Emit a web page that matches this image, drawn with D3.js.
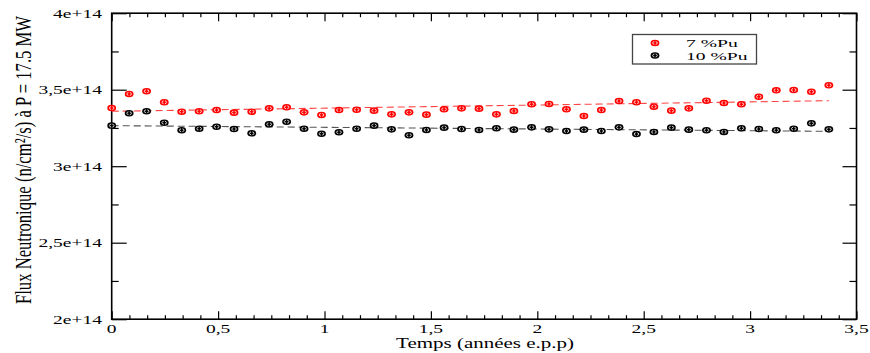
<!DOCTYPE html>
<html><head><meta charset="utf-8">
<script src="https://cdn.jsdelivr.net/npm/d3@7"></script>
<style>body{margin:0;background:#fff}svg{display:block}text{font-family:"Liberation Serif","Times New Roman",serif;fill:#000}</style>
</head><body><svg id="c" width="870" height="353"></svg>
<script>
// ---- data ----
const times = [0,0.082,0.164,0.247,0.329,0.411,0.493,0.575,0.658,0.740,0.822,0.904,0.986,1.068,1.151,1.233,1.315,1.397,1.479,1.562,1.644,1.726,1.808,1.890,1.973,2.055,2.137,2.219,2.301,2.384,2.466,2.548,2.630,2.712,2.795,2.877,2.959,3.041,3.123,3.205,3.288,3.370];
const flux7 = [3.380,3.472,3.490,3.418,3.356,3.359,3.367,3.350,3.356,3.378,3.385,3.352,3.335,3.367,3.369,3.363,3.339,3.352,3.337,3.372,3.378,3.376,3.339,3.361,3.405,3.407,3.372,3.328,3.367,3.426,3.418,3.389,3.363,3.378,3.428,3.413,3.405,3.454,3.496,3.498,3.487,3.529].map(v=>v*1e14);
const flux10 = [3.265,3.346,3.359,3.284,3.235,3.245,3.258,3.243,3.215,3.274,3.291,3.245,3.212,3.222,3.245,3.265,3.241,3.202,3.237,3.252,3.243,3.237,3.248,3.239,3.254,3.241,3.230,3.239,3.230,3.254,3.210,3.224,3.252,3.239,3.235,3.224,3.248,3.243,3.235,3.245,3.280,3.241].map(v=>v*1e14);
const trendT = [0, 3.370];
const trend7 = [3.359e14, 3.428e14];
const trend10 = [3.265e14, 3.228e14];
const xTicks = [0,0.5,1,1.5,2,2.5,3,3.5];
const xTickLabels = ["0","0,5","1","1,5","2","2,5","3","3,5"];
const yTicks = [2e14,2.5e14,3e14,3.5e14,4e14];
const yTickLabels = ["2e+14","2,5e+14","3e+14","3,5e+14","4e+14"];
const seriesNames = ["7 %Pu","10 %Pu"];
const seriesColors = ["#ff0000","#000000"];

// ---- layout ----
const L=111.7, R=856.5, T=13.2, B=319.2, SX=1.5;
const svg=d3.select("#c");
const x=d3.scaleLinear().domain([0,3.5]).range([L,R]);
const y=d3.scaleLinear().domain([2e14,4e14]).range([B,T]);

function txt(g,str,px,py,size,anchor,sx){
  return g.append("text").attr("transform",`translate(${px},${py}) scale(${sx||SX},1)`)
    .attr("text-anchor",anchor).attr("font-size",size).text(str);
}

// minor / major ticks via axes
const xMinor=d3.range(0,3.5001,0.5/6).filter(v=>Math.abs(v*2-Math.round(v*2))>1e-6);
const yMinor=d3.range(2.25e14,4e14,0.5e14);
function axisG(axis,tx,ty){
  const g=svg.append("g").attr("transform",`translate(${tx},${ty})`).call(axis);
  g.select(".domain").remove();
  g.selectAll(".tick line").attr("stroke","#000").attr("stroke-width",1.2);
  g.selectAll("text").remove();
}
axisG(d3.axisBottom(x).tickValues(xTicks).tickSize(-8).tickFormat(""),0,B);
axisG(d3.axisBottom(x).tickValues(xMinor).tickSize(-4).tickFormat(""),0,B);
axisG(d3.axisTop(x).tickValues(xTicks).tickSize(-8).tickFormat(""),0,T);
axisG(d3.axisTop(x).tickValues(xMinor).tickSize(-4).tickFormat(""),0,T);
axisG(d3.axisLeft(y).tickValues(yTicks).tickSize(-15).tickFormat(""),L,0);
axisG(d3.axisLeft(y).tickValues(yMinor).tickSize(-7).tickFormat(""),L,0);
axisG(d3.axisRight(y).tickValues(yTicks).tickSize(-14).tickFormat(""),R,0);
axisG(d3.axisRight(y).tickValues(yMinor).tickSize(-7).tickFormat(""),R,0);

svg.append("rect").attr("x",L).attr("y",T).attr("width",R-L).attr("height",B-T)
  .attr("fill","none").attr("stroke","#000").attr("stroke-width",1.6);

// tick labels
const lab=svg.append("g");
xTicks.forEach((v,i)=>txt(lab,xTickLabels[i],x(v),332.5,13,"middle"));
yTicks.forEach((v,i)=>txt(lab,yTickLabels[i],102,y(v)+4.5,13,"end"));

// axis titles
txt(svg,"Temps (années e.p.p)",485,348,14,"middle");
svg.append("text").attr("transform",`translate(31,160) rotate(-90) scale(1,${SX})`)
  .attr("text-anchor","middle").attr("font-size",16).attr("textLength",288)
  .attr("lengthAdjust","spacingAndGlyphs").text("Flux Neutronique (n/cm²/s) à P = 17.5 MW");

// trend lines
const line=d3.line().x(d=>x(d[0])).y(d=>y(d[1]));
svg.append("path").attr("d",line(trendT.map((t,i)=>[t,trend10[i]])))
  .attr("fill","none").attr("stroke","#555").attr("stroke-width",1.1).attr("stroke-dasharray","7,4");
svg.append("path").attr("d",line(trendT.map((t,i)=>[t,trend7[i]])))
  .attr("fill","none").attr("stroke","#f44").attr("stroke-width",1.1).attr("stroke-dasharray","7,4");

// markers
function marker(g,cx,cy,col){
  g.append("ellipse").attr("cx",cx).attr("cy",cy).attr("rx",4.4).attr("ry",3.3).attr("fill",col);
  g.append("ellipse").attr("cx",cx).attr("cy",cy).attr("rx",2.3).attr("ry",1.5).attr("fill","none").attr("stroke","#fff").attr("stroke-width",0.8);
  g.append("line").attr("x1",cx).attr("x2",cx).attr("y1",cy-2.2).attr("y2",cy+2.2).attr("stroke",col).attr("stroke-width",1.4);
}
const pts=svg.append("g");
[flux10,flux7].forEach((ser,si)=>{
  const col = si===0?seriesColors[1]:seriesColors[0];
  ser.forEach((v,i)=>marker(pts,x(times[i]),y(v),col));
});

// legend
const lg=svg.append("g");
lg.append("rect").attr("x",632.5).attr("y",34.5).attr("width",124).attr("height",29.5)
  .attr("fill","#fff").attr("stroke","#444").attr("stroke-width",1.3);
seriesNames.forEach((n,i)=>{
  marker(lg,655,43+i*12.5,seriesColors[i]);
  txt(lg,n,686,47+i*13,11.2,"start",1.75);
});
</script></body></html>
